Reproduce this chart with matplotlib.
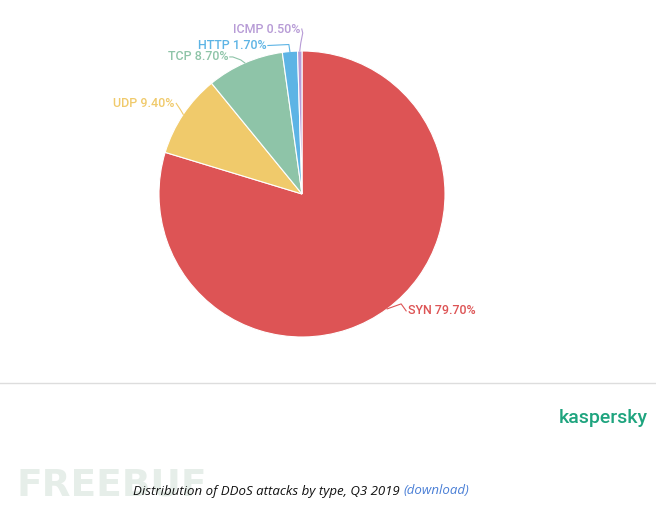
import numpy as np
import matplotlib.pyplot as plt

labels = ['SYN', 'UDP', 'TCP', 'HTTP', 'ICMP']
shares = [79.7, 9.4, 8.7, 1.7, 0.5]
colors = ['#dd5455', '#f0ca6b', '#8ec4a8', '#5db4e5', '#b79bd6']

W, H = 656, 514
fig = plt.figure(figsize=(W / 100, H / 100), dpi=100)
ax = fig.add_axes([0, 0, 1, 1])

cx, cy, r = 302, H - 194, 143
wedges, _ = ax.pie(shares, colors=colors, startangle=90, counterclock=False,
                   center=(cx, cy), radius=r, frame=True,
                   wedgeprops=dict(edgecolor='white', linewidth=0.8))
ax.set_xlim(0, W)
ax.set_ylim(0, H)
ax.set_aspect('equal')
ax.axis('off')

# leader polyline relative to slice edge point, then label side
leaders = {
    'SYN': ([(14, 5), (19, -2)], 1),
    'UDP': ([(-3, 5), (-7, 11)], -1),
    'TCP': ([(-4, 3), (-12, 6), (-15, 6)], -1),
    'HTTP': ([(-1, 7), (-22, 6)], -1),
    'ICMP': ([(1, 8), (3, 18), (2, 22)], -1),
}
for w, lab, val, col in zip(wedges, labels, shares, colors):
    ang = np.deg2rad((w.theta1 + w.theta2) / 2)
    x0, y0 = cx + r * np.cos(ang), cy + r * np.sin(ang)
    pts, side = leaders[lab]
    xs = [x0] + [x0 + dx for dx, dy in pts]
    ys = [y0] + [y0 + dy for dx, dy in pts]
    ax.plot(xs, ys, color=col, lw=0.8)
    ax.text(xs[-1] + side * 1.5, ys[-1], f'{lab} {val:.2f}%', color=col,
            fontsize=9, family='Roboto', fontweight='medium',
            ha='left' if side > 0 else 'right', va='center')

ax.plot([0, W], [H - 383, H - 383], color='#dddddd', lw=1)
ax.text(648, H - 418, 'kaspersky', color='#1ea47e', fontsize=14,
        family='Roboto', fontweight='medium', ha='right', va='center')
ax.text(16, H - 485, 'FREEBUF', color='#e6eee9', fontsize=27,
        family='DejaVu Sans', fontweight='bold', ha='left', va='center', zorder=0)
t = ax.text(133, H - 491, 'Distribution of DDoS attacks by type, Q3 2019 ',
            color='#111111', fontsize=9.5, family='Open Sans', style='italic',
            ha='left', va='center')
fig.canvas.draw()
bb = t.get_window_extent()
ax.text(bb.x1, H - 491, '(download)', color='#4a7fd6', fontsize=9.5,
        family='Open Sans', style='italic', ha='left', va='center')

fig.savefig('out.png', dpi=100)
